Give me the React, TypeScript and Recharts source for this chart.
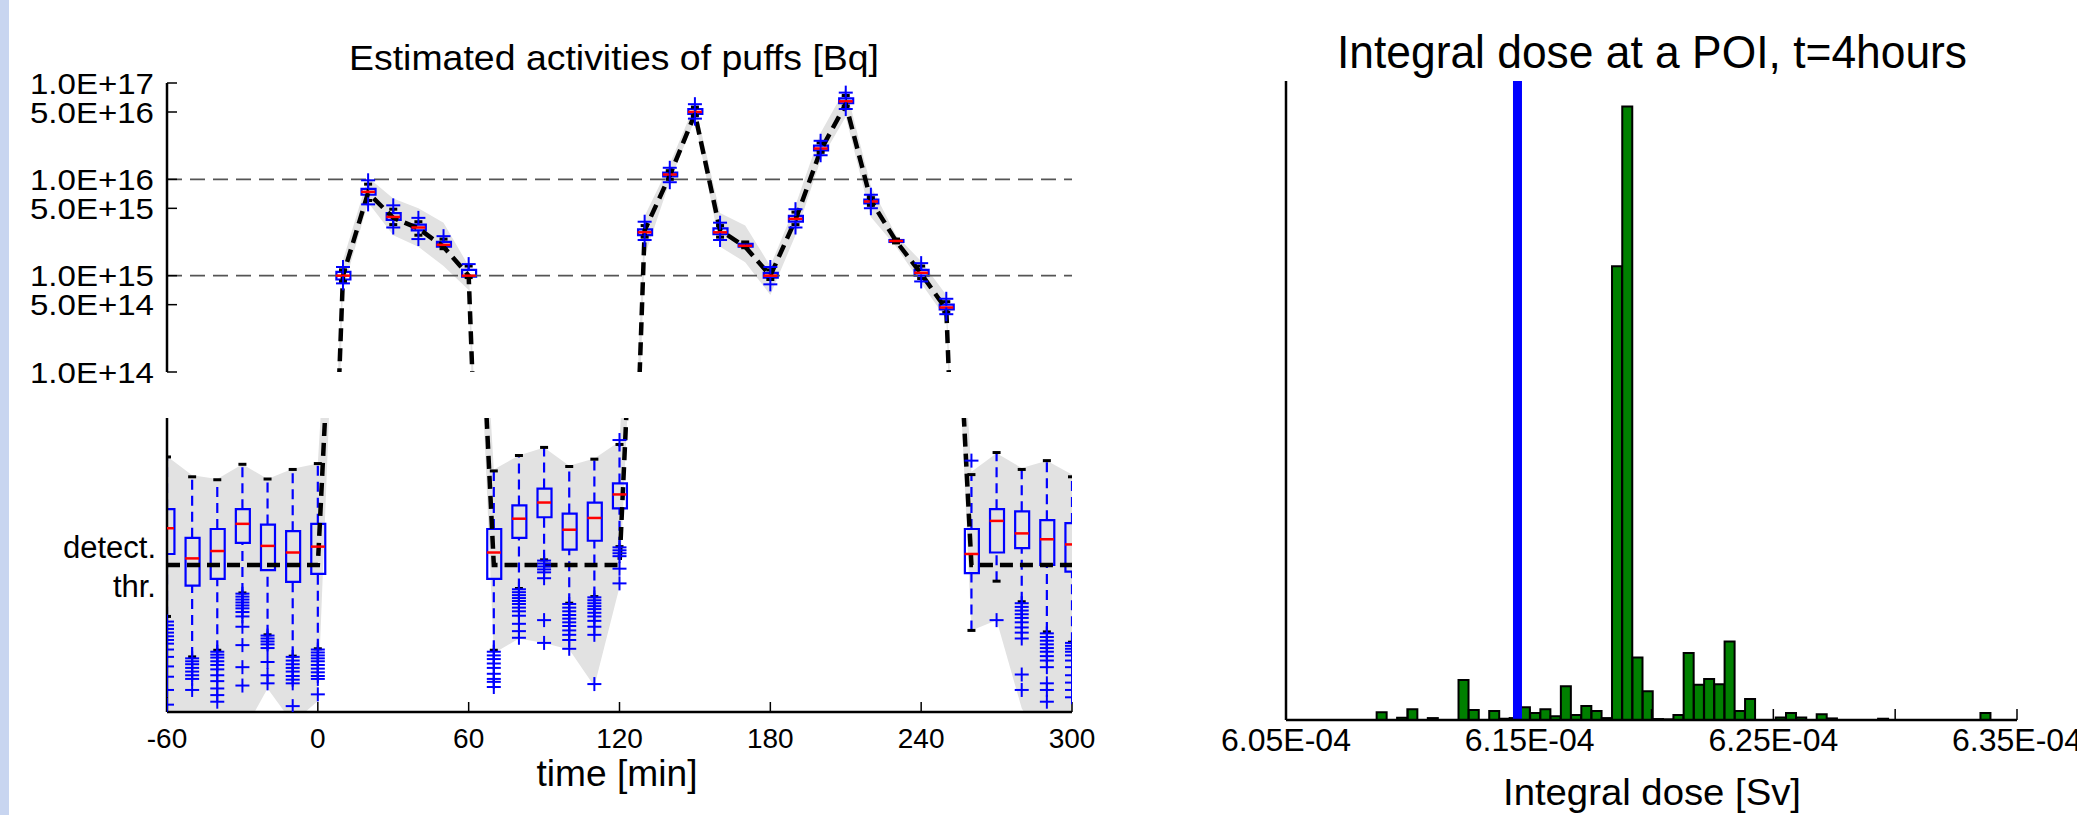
import React from "react";
import { ComposedChart, BarChart, Bar, Line, Area, Scatter, XAxis, YAxis, ReferenceLine } from "recharts";

const FONT = "'Liberation Sans', Arial, 'DejaVu Sans', sans-serif";

// puff release times [min]
const times = [-60, -50, -40, -30, -20, -10, 0, 10, 20, 30, 40, 50, 60, 70, 80, 90, 100, 110, 120, 130, 140, 150, 160, 170, 180, 190, 200, 210, 220, 230, 240, 250, 260, 270, 280, 290, 300];

// true release, log10(Bq); 8 = detection threshold level
const trueLog = [8, 8, 8, 8, 8, 8, 8, 15.0, 15.86, 15.6, 15.49, 15.3, 15.0, 8, 8, 8, 8, 8, 8, 15.47, 16.04, 16.68, 15.47, 15.3, 15.0, 15.58, 16.3, 16.78, 15.78, 15.36, 15.02, 14.65, 8, 8, 8, 8, 8];

// grey envelope of the ensemble
const bandLowLog = [5.5, 5.6, 5.6, 5.7, 6.32, 5.85, 6.15, 14.85, 15.76, 15.42, 15.3, 15.1, 14.85, 6.8, 7.0, 6.94, 6.85, 6.35, 7.7, 15.2, 15.98, 16.62, 15.3, 15.14, 14.8, 15.42, 16.2, 16.65, 15.61, 15.3, 14.92, 14.55, 7.11, 7.25, 6.05, 5.5, 5.6];
const bandHighLog = [9.48, 9.22, 9.17, 9.37, 9.17, 9.31, 9.38, 15.16, 16.02, 15.8, 15.7, 15.55, 15.1, 9.3, 9.49, 9.6, 9.35, 9.45, 9.68, 15.62, 16.16, 16.78, 15.65, 15.52, 15.1, 15.73, 16.48, 16.95, 15.93, 15.42, 15.15, 14.8, 9.27, 9.52, 9.32, 9.42, 9.23];

// box plot statistics per puff
const whiskerLowLog = [7.3, 6.75, 6.84, 7.62, 7.05, 6.76, 6.86, 14.94, 15.78, 15.53, 15.42, 15.28, 14.98, 6.84, 7.68, 8.07, 7.48, 7.57, 8.25, 15.4, 16.0, 16.66, 15.4, 15.29, 14.96, 15.53, 16.28, 16.76, 15.73, 15.34, 14.97, 14.62, 7.11, 7.78, 7.5, 7.09, 6.95];
const q1Log = [8.15, 7.72, 7.81, 8.3, 7.93, 7.77, 7.88, 14.96, 15.84, 15.58, 15.47, 15.3, 14.99, 7.81, 8.37, 8.65, 8.21, 8.33, 8.77, 15.42, 16.03, 16.68, 15.43, 15.3, 14.98, 15.56, 16.3, 16.79, 15.75, 15.35, 15.0, 14.65, 7.89, 8.17, 8.23, 8.0, 7.91];
const medianLog = [8.5, 8.09, 8.19, 8.56, 8.26, 8.17, 8.25, 15.0, 15.87, 15.61, 15.5, 15.32, 15.0, 8.17, 8.63, 8.85, 8.48, 8.64, 8.96, 15.45, 16.05, 16.7, 15.45, 15.31, 15.0, 15.59, 16.32, 16.81, 15.77, 15.36, 15.03, 14.67, 8.15, 8.6, 8.43, 8.35, 8.28];
const q3Log = [8.76, 8.37, 8.49, 8.76, 8.55, 8.46, 8.56, 15.04, 15.9, 15.65, 15.53, 15.35, 15.06, 8.49, 8.81, 9.04, 8.7, 8.85, 9.11, 15.48, 16.07, 16.73, 15.49, 15.33, 15.03, 15.62, 16.35, 16.84, 15.79, 15.37, 15.06, 14.7, 8.49, 8.76, 8.73, 8.61, 8.57];
const whiskerHighLog = [9.47, 9.2, 9.16, 9.37, 9.17, 9.3, 9.38, 15.06, 15.95, 15.69, 15.56, 15.38, 15.1, 9.28, 9.49, 9.6, 9.34, 9.44, 9.64, 15.52, 16.09, 16.75, 15.52, 15.35, 15.06, 15.66, 16.38, 16.87, 15.81, 15.38, 15.1, 14.73, 9.23, 9.53, 9.3, 9.42, 9.2];
const outliersLog = [
  [7.23, 7.18, 7.13, 7.08, 7.03, 6.98, 6.93, 6.85, 6.75, 6.62, 6.48, 6.3, 6.1],
  [6.73, 6.69, 6.65, 6.6, 6.55, 6.5, 6.45, 6.3],
  [6.82, 6.78, 6.74, 6.69, 6.64, 6.58, 6.5, 6.42, 6.32, 6.23, 6.14],
  [7.61, 7.57, 7.53, 7.49, 7.45, 7.41, 7.36, 7.3, 7.16, 6.91, 6.61, 6.36],
  [7.04, 7.0, 6.96, 6.92, 6.87, 6.68, 6.5, 6.39],
  [6.75, 6.7, 6.65, 6.6, 6.55, 6.49, 6.44, 6.39, 6.08],
  [6.85, 6.81, 6.77, 6.73, 6.69, 6.64, 6.59, 6.54, 6.49, 6.45, 6.24],
  [14.92, 15.09],
  [15.99, 15.74],
  [15.73, 15.5],
  [15.6, 15.38],
  [15.41],
  [15.12],
  [6.82, 6.77, 6.72, 6.66, 6.6, 6.52, 6.45, 6.41, 6.34],
  [7.67, 7.63, 7.59, 7.55, 7.51, 7.47, 7.42, 7.37, 7.31, 7.2, 7.1, 7.01],
  [8.06, 8.02, 7.98, 7.94, 7.9, 7.82, 7.25, 6.94],
  [7.47, 7.42, 7.37, 7.32, 7.27, 7.22, 7.17, 7.11, 7.05, 6.98, 6.86],
  [7.56, 7.52, 7.48, 7.44, 7.4, 7.35, 7.3, 7.24, 7.16, 7.05, 6.38],
  [9.7, 8.24, 8.2, 8.16, 8.12, 7.95, 7.75],
  [15.56, 15.37],
  [15.97, 16.12],
  [16.78, 16.63],
  [15.55, 15.37],
  [],
  [15.09, 14.91],
  [15.69, 15.5],
  [16.4, 16.25],
  [16.9, 16.73],
  [15.84, 15.7],
  [],
  [15.13, 14.94],
  [14.76, 14.6],
  [9.42],
  [7.25],
  [7.48, 7.43, 7.38, 7.33, 7.28, 7.22, 7.15, 7.08, 7.0, 6.51, 6.3],
  [7.07, 7.02, 6.97, 6.92, 6.87, 6.82, 6.76, 6.7, 6.61, 6.39, 6.3, 6.14],
  [6.94, 6.9, 6.86, 6.82, 6.77, 6.7, 6.61, 6.5, 6.4, 6.3, 6.2],
];

const activityTicks = [1e14, 5e14, 1e15, 5e15, 1e16, 5e16, 1e17];
const gridActivities = [1e15, 1e16];
const timeTicks = [-60, 0, 60, 120, 180, 240, 300];

// histogram of integral dose [Sv]
const histStart = 6.0872e-4;
const histBinWidth = 4.2e-7;
const histCounts = [1.2, 0, 0.36, 1.67, 0, 0.3, 0, 0, 6.25, 1.56, 0, 1.4, 0.2, 0.3, 2.0, 1.1, 1.67, 0.6, 5.3, 0.8, 2.2, 1.4, 0.3, 71, 96, 9.8, 4.5, 0.15, 0.1, 0.8, 10.5, 5.5, 6.4, 5.6, 12.3, 1.4, 3.3, 0, 0, 0.4, 1.1, 0.4, 0, 0.9, 0.25, 0, 0, 0, 0, 0.2, 0, 0, 0, 0, 0, 0, 0, 0, 0, 1.1];
const doseTicks = [6.05e-4, 6.1e-4, 6.15e-4, 6.2e-4, 6.25e-4, 6.3e-4, 6.35e-4];
const doseLabelled = [6.05e-4, 6.15e-4, 6.25e-4, 6.35e-4];
const estimatedDose = 6.145e-4;

const table = times.map((t, i) => ({
  t,
  truth: trueLog[i],
  band: [bandLowLog[i], bandHighLog[i]],
  box: [q1Log[i], q3Log[i]],
  median: medianLog[i],
}));

const whiskers = times.flatMap((t, i) => [
  { t, w: whiskerLowLog[i] },
  { t, w: q1Log[i] },
  { t, w: null },
  { t, w: q3Log[i] },
  { t, w: whiskerHighLog[i] },
  { t, w: null },
]);

const caps = times.flatMap((t, i) => [
  { t, c: whiskerLowLog[i] },
  { t, c: whiskerHighLog[i] },
]);

const fliers = times.flatMap((t, i) => outliersLog[i].map((f) => ({ t, f })));

const histData = histCounts.map((count, i) => ({ dose: histStart + (i + 0.5) * histBinWidth, count }));

const sci = (v: number) => {
  const e = Math.floor(v + 1e-9);
  return `${Math.pow(10, v - e).toFixed(1)}E+${e}`;
};

const hLine = (color: string, half: number, w: number) => (p: any) => (
  <line x1={p.cx - half} x2={p.cx + half} y1={p.cy} y2={p.cy} stroke={color} strokeWidth={w} />
);

const plus = (p: any) => (
  <g stroke="#0000ff" strokeWidth={2}>
    <line x1={p.cx - 7} x2={p.cx + 7} y1={p.cy} y2={p.cy} />
    <line x1={p.cx} x2={p.cx} y1={p.cy - 7} y2={p.cy + 7} />
  </g>
);

const ActivityTick = (p: any) => (
  <text
    x={p.x}
    y={p.y}
    dy="0.36em"
    textAnchor="end"
    fontSize={30}
    fontFamily={FONT}
    fill="#000"
    textLength={124}
    lengthAdjust="spacingAndGlyphs"
  >
    {sci(p.payload.value)}
  </text>
);

const tickFont = (size: number) => ({ fill: "#000", fontSize: size, fontFamily: FONT });

function PuffPanel({ upper }: { upper: boolean }) {
  const domain = upper ? [14, 17] : [6, 10];
  const yTicks = activityTicks.map((v) => Math.log10(v));
  return (
    <div style={{ position: "absolute", left: 0, top: upper ? 0 : 400 }}>
      <ComposedChart
        width={1100}
        height={upper ? 400 : 415}
        data={table}
        margin={upper ? { top: 83, right: 28, bottom: 28, left: 0 } : { top: 18, right: 28, bottom: 0, left: 0 }}
      >
        {upper ? (
          <XAxis xAxisId="b" dataKey="t" type="number" domain={[-60, 300]} allowDataOverflow hide />
        ) : (
          <XAxis
            xAxisId="b"
            dataKey="t"
            type="number"
            domain={[-60, 300]}
            allowDataOverflow
            ticks={timeTicks}
            interval={0}
            height={103}
            stroke="#000"
            axisLine={{ strokeWidth: 2.5 }}
            tickLine={{ strokeWidth: 1.5 }}
            tickSize={-10}
            tickMargin={26}
            tick={tickFont(28)}
          />
        )}
        {upper && (
          <XAxis
            xAxisId="top"
            orientation="top"
            dataKey="t"
            type="number"
            domain={[-60, 300]}
            height={0}
            tick={false}
            tickLine={false}
            stroke="#000"
            axisLine={{ strokeWidth: 2.5 }}
          />
        )}
        <YAxis
          yAxisId="l"
          type="number"
          domain={domain}
          allowDataOverflow
          width={167}
          ticks={upper ? yTicks : []}
          interval={0}
          stroke="#000"
          axisLine={{ strokeWidth: 2.5 }}
          tickLine={upper ? { strokeWidth: 1.5 } : false}
          tickSize={-10}
          tickMargin={23}
          tick={upper ? <ActivityTick /> : false}
        />
        <YAxis
          yAxisId="r"
          orientation="right"
          type="number"
          domain={domain}
          allowDataOverflow
          width={0}
          ticks={upper ? yTicks : []}
          interval={0}
          stroke="#000"
          axisLine={{ strokeWidth: 2.5 }}
          tickLine={upper ? { strokeWidth: 1.5 } : false}
          tickSize={-10}
          tick={false}
        />
        {upper &&
          gridActivities.map((g) => (
            <ReferenceLine
              key={g}
              xAxisId="b"
              yAxisId="l"
              y={Math.log10(g)}
              stroke="#555"
              strokeWidth={1.6}
              strokeDasharray="15 8"
            />
          ))}
        <Area
          xAxisId="b"
          yAxisId="l"
          dataKey="band"
          type="linear"
          stroke="none"
          fill="#e2e2e2"
          fillOpacity={1}
          isAnimationActive={false}
        />
        <Bar
          xAxisId="b"
          yAxisId="l"
          dataKey="box"
          barSize={14}
          fill="none"
          stroke="#0000ff"
          strokeWidth={2.2}
          isAnimationActive={false}
        />
        <Line
          xAxisId="b"
          yAxisId="l"
          data={whiskers}
          dataKey="w"
          type="linear"
          stroke="#0000ff"
          strokeWidth={2.2}
          strokeDasharray="10 6"
          dot={false}
          activeDot={false}
          connectNulls={false}
          isAnimationActive={false}
        />
        <Scatter xAxisId="b" yAxisId="l" data={caps} dataKey="c" shape={hLine("#000", 4, 3)} isAnimationActive={false} />
        <Scatter xAxisId="b" yAxisId="l" data={table} dataKey="median" shape={hLine("#ff0000", 7, 2.5)} isAnimationActive={false} />
        <Scatter xAxisId="b" yAxisId="l" data={fliers} dataKey="f" shape={plus} isAnimationActive={false} />
        <Line
          xAxisId="b"
          yAxisId="l"
          dataKey="truth"
          type="linear"
          stroke="#000"
          strokeWidth={4.5}
          strokeDasharray="13 7"
          dot={false}
          activeDot={false}
          isAnimationActive={false}
        />
      </ComposedChart>
    </div>
  );
}

function DoseHistogram() {
  const doseLabel = (v: number) =>
    doseLabelled.some((d) => Math.abs(d - v) < 1e-9) ? `${(v * 1e4).toFixed(2)}E-04` : "";
  return (
    <div style={{ position: "absolute", left: 1200, top: 0 }}>
      <BarChart
        width={877}
        height={815}
        data={histData}
        barCategoryGap={0}
        barGap={0}
        margin={{ top: 81, right: 60, bottom: 0, left: 0 }}
      >
        <XAxis
          xAxisId="b"
          dataKey="dose"
          type="number"
          domain={[6.05e-4, 6.35e-4]}
          allowDataOverflow
          ticks={doseTicks}
          interval={0}
          tickFormatter={doseLabel}
          height={95}
          stroke="#000"
          axisLine={{ strokeWidth: 2.5 }}
          tickLine={{ strokeWidth: 1.5 }}
          tickSize={-11}
          tickMargin={19}
          tick={tickFont(32)}
        />
        <XAxis
          xAxisId="top"
          orientation="top"
          dataKey="dose"
          type="number"
          domain={[6.05e-4, 6.35e-4]}
          allowDataOverflow
          ticks={doseTicks}
          interval={0}
          height={0}
          stroke="#000"
          axisLine={{ strokeWidth: 2.5 }}
          tickLine={{ strokeWidth: 1.5 }}
          tickSize={-11}
          tick={false}
        />
        <YAxis yAxisId="l" type="number" domain={[0, 100]} width={86} tick={false} tickLine={false} stroke="#000" axisLine={{ strokeWidth: 2.5 }} />
        <YAxis yAxisId="r" orientation="right" type="number" domain={[0, 100]} width={0} tick={false} tickLine={false} stroke="#000" axisLine={{ strokeWidth: 2.5 }} />
        <Bar
          xAxisId="b"
          yAxisId="l"
          dataKey="count"
          fill="#008000"
          stroke="#000"
          strokeWidth={2}
          isAnimationActive={false}
        />
        <ReferenceLine xAxisId="b" yAxisId="l" x={estimatedDose} stroke="#0000ff" strokeWidth={9} />
      </BarChart>
    </div>
  );
}

export default function App() {
  const text = { fontFamily: FONT, fill: "#000" };
  return (
    <div style={{ position: "absolute", left: 0, top: 0, width: 2077, height: 815, background: "#fff", overflow: "hidden" }}>
      <div style={{ position: "absolute", left: 0, top: 0, width: 9, height: 815, background: "#c8d5f0" }} />
      <PuffPanel upper={true} />
      <PuffPanel upper={false} />
      <DoseHistogram />
      <svg width={2077} height={815} style={{ position: "absolute", left: 0, top: 0, pointerEvents: "none" }}>
        <text {...text} x={614} y={70} fontSize={35} textAnchor="middle" textLength={530} lengthAdjust="spacingAndGlyphs">
          Estimated activities of puffs [Bq]
        </text>
        <text {...text} x={1652} y={68} fontSize={46} textAnchor="middle" textLength={630} lengthAdjust="spacingAndGlyphs">
          Integral dose at a POI, t=4hours
        </text>
        <text {...text} x={617} y={786} fontSize={37} textAnchor="middle" textLength={161} lengthAdjust="spacingAndGlyphs">
          time [min]
        </text>
        <text {...text} x={1652} y={805} fontSize={37} textAnchor="middle" textLength={298} lengthAdjust="spacingAndGlyphs">
          Integral dose [Sv]
        </text>
        <text {...text} x={156} y={558} fontSize={31} textAnchor="end">
          detect.
        </text>
        <text {...text} x={156} y={597} fontSize={31} textAnchor="end">
          thr.
        </text>
      </svg>
    </div>
  );
}
